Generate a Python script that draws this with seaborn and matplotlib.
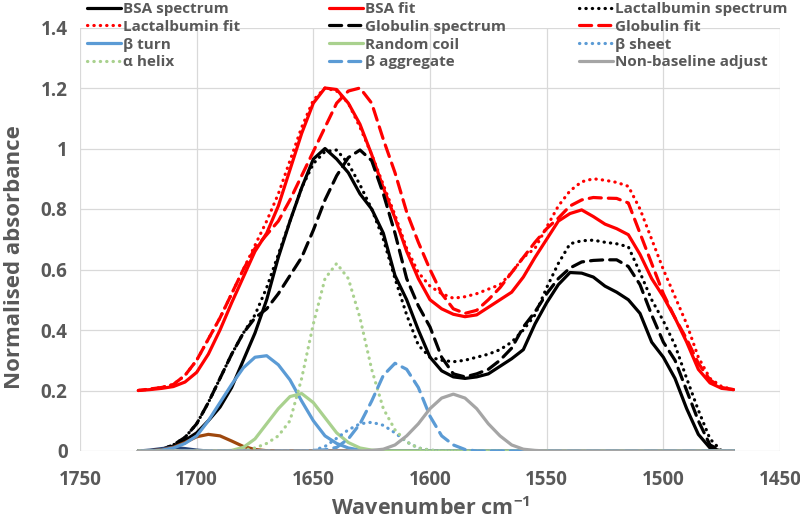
import matplotlib
matplotlib.use("Agg")
import matplotlib.pyplot as plt
import seaborn as sns

wavenumber = [1725, 1720, 1715, 1710, 1705, 1700, 1695, 1690, 1685, 1680,
              1675, 1670, 1665, 1660, 1655, 1650, 1645, 1640, 1635, 1630,
              1625, 1620, 1615, 1610, 1605, 1600, 1595, 1590, 1585, 1580,
              1575, 1570, 1565, 1560, 1555, 1550, 1545, 1540, 1535, 1530,
              1525, 1520, 1515, 1510, 1505, 1500, 1495, 1490, 1485, 1480,
              1475, 1470]

bsa_spectrum = [0.0, 0.0, 0.005, 0.015, 0.035, 0.06, 0.10, 0.145, 0.21, 0.30,
                0.39, 0.50, 0.64, 0.76, 0.87, 0.965, 1.0, 0.965, 0.92, 0.85,
                0.80, 0.72, 0.58, 0.50, 0.40, 0.31, 0.265, 0.245, 0.24, 0.245,
                0.255, 0.28, 0.305, 0.335, 0.42, 0.49, 0.55, 0.59, 0.588, 0.575,
                0.545, 0.525, 0.50, 0.455, 0.36, 0.31, 0.24, 0.14, 0.055, 0.01,
                0.0, 0.0]
bsa_fit = [0.2, 0.203, 0.207, 0.213, 0.228, 0.26, 0.32, 0.40, 0.49, 0.575,
           0.66, 0.72, 0.81, 0.93, 1.05, 1.15, 1.20, 1.195, 1.15, 1.08,
           0.98, 0.87, 0.77, 0.66, 0.57, 0.50, 0.47, 0.452, 0.444, 0.45,
           0.475, 0.50, 0.525, 0.575, 0.64, 0.70, 0.76, 0.785, 0.797, 0.775,
           0.75, 0.735, 0.715, 0.65, 0.57, 0.51, 0.44, 0.36, 0.27, 0.225,
           0.207, 0.203]
lact_spectrum = [0.0, 0.0, 0.005, 0.02, 0.045, 0.09, 0.16, 0.24, 0.32, 0.39,
                 0.45, 0.54, 0.65, 0.76, 0.87, 0.95, 0.99, 0.995, 0.95, 0.88,
                 0.80, 0.70, 0.57, 0.45, 0.35, 0.31, 0.30, 0.295, 0.30, 0.31,
                 0.32, 0.335, 0.36, 0.40, 0.45, 0.54, 0.62, 0.685, 0.695, 0.697,
                 0.69, 0.685, 0.675, 0.59, 0.50, 0.43, 0.35, 0.24, 0.135, 0.04,
                 0.0, 0.0]
lact_fit = [0.2, 0.205, 0.21, 0.22, 0.25, 0.30, 0.37, 0.44, 0.52, 0.60,
            0.68, 0.76, 0.85, 0.96, 1.07, 1.16, 1.20, 1.19, 1.15, 1.07,
            0.98, 0.88, 0.78, 0.67, 0.59, 0.545, 0.52, 0.505, 0.51, 0.52,
            0.535, 0.55, 0.59, 0.64, 0.67, 0.74, 0.81, 0.86, 0.89, 0.90,
            0.895, 0.888, 0.875, 0.80, 0.70, 0.60, 0.51, 0.42, 0.31, 0.24,
            0.213, 0.203]
glob_spectrum = [0.0, 0.0, 0.005, 0.02, 0.045, 0.09, 0.16, 0.24, 0.32, 0.39,
                 0.44, 0.47, 0.52, 0.58, 0.64, 0.73, 0.83, 0.91, 0.97, 0.995,
                 0.96, 0.85, 0.72, 0.57, 0.48, 0.41, 0.31, 0.255, 0.245, 0.255,
                 0.27, 0.30, 0.34, 0.41, 0.46, 0.52, 0.57, 0.605, 0.625, 0.63,
                 0.632, 0.632, 0.61, 0.55, 0.45, 0.36, 0.30, 0.20, 0.10, 0.02,
                 0.0, 0.0]
glob_fit = [0.2, 0.205, 0.21, 0.22, 0.25, 0.30, 0.37, 0.44, 0.52, 0.60,
            0.67, 0.715, 0.76, 0.83, 0.91, 0.99, 1.07, 1.15, 1.19, 1.20,
            1.15, 1.03, 0.92, 0.79, 0.69, 0.60, 0.52, 0.47, 0.455, 0.465,
            0.50, 0.54, 0.59, 0.64, 0.69, 0.735, 0.77, 0.81, 0.83, 0.838,
            0.836, 0.835, 0.82, 0.72, 0.62, 0.52, 0.44, 0.37, 0.29, 0.235,
            0.21, 0.203]

# fitted component bands
band_1712 = [0.0, 0.003, 0.008, 0.012, 0.008, 0.003, 0.0, 0.0, 0.0, 0.0,
             0.0, 0.0, 0.0, 0.0, 0.0, 0.0, 0.0, 0.0, 0.0, 0.0,
             0.0, 0.0, 0.0, 0.0, 0.0, 0.0, 0.0, 0.0, 0.0, 0.0,
             0.0, 0.0, 0.0, 0.0, 0.0, 0.0, 0.0, 0.0, 0.0, 0.0,
             0.0, 0.0, 0.0, 0.0, 0.0, 0.0, 0.0, 0.0, 0.0, 0.0,
             0.0, 0.0]
band_1695 = [0.0, 0.001, 0.004, 0.012, 0.028, 0.047, 0.055, 0.05, 0.033, 0.015,
             0.005, 0.001, 0.0, 0.0, 0.0, 0.0, 0.0, 0.0, 0.0, 0.0,
             0.0, 0.0, 0.0, 0.0, 0.0, 0.0, 0.0, 0.0, 0.0, 0.0,
             0.0, 0.0, 0.0, 0.0, 0.0, 0.0, 0.0, 0.0, 0.0, 0.0,
             0.0, 0.0, 0.0, 0.0, 0.0, 0.0, 0.0, 0.0, 0.0, 0.0,
             0.0, 0.0]
beta_turn = [0.0, 0.0, 0.003, 0.01, 0.025, 0.05, 0.10, 0.16, 0.22, 0.275,
             0.31, 0.315, 0.285, 0.235, 0.165, 0.10, 0.05, 0.025, 0.01, 0.003,
             0.0, 0.0, 0.0, 0.0, 0.0, 0.0, 0.0, 0.0, 0.0, 0.0,
             0.0, 0.0, 0.0, 0.0, 0.0, 0.0, 0.0, 0.0, 0.0, 0.0,
             0.0, 0.0, 0.0, 0.0, 0.0, 0.0, 0.0, 0.0, 0.0, 0.0,
             0.0, 0.0]
random_coil = [0.0, 0.0, 0.0, 0.0, 0.0, 0.0, 0.0, 0.0, 0.002, 0.012,
               0.04, 0.09, 0.14, 0.18, 0.19, 0.16, 0.11, 0.06, 0.028, 0.01,
               0.003, 0.0, 0.0, 0.0, 0.0, 0.0, 0.0, 0.0, 0.0, 0.0,
               0.0, 0.0, 0.0, 0.0, 0.0, 0.0, 0.0, 0.0, 0.0, 0.0,
               0.0, 0.0, 0.0, 0.0, 0.0, 0.0, 0.0, 0.0, 0.0, 0.0,
               0.0, 0.0]
beta_sheet = [0.0, 0.0, 0.0, 0.0, 0.0, 0.0, 0.0, 0.0, 0.0, 0.0,
              0.0, 0.0, 0.0, 0.0, 0.0, 0.002, 0.015, 0.042, 0.07, 0.09,
              0.095, 0.085, 0.06, 0.03, 0.01, 0.003, 0.0, 0.0, 0.0, 0.0,
              0.0, 0.0, 0.0, 0.0, 0.0, 0.0, 0.0, 0.0, 0.0, 0.0,
              0.0, 0.0, 0.0, 0.0, 0.0, 0.0, 0.0, 0.0, 0.0, 0.0,
              0.0, 0.0]
alpha_helix = [0.0, 0.0, 0.0, 0.0, 0.0, 0.0, 0.0, 0.0, 0.0, 0.003,
               0.01, 0.025, 0.05, 0.10, 0.24, 0.42, 0.57, 0.62, 0.57, 0.44,
               0.27, 0.14, 0.07, 0.03, 0.01, 0.003, 0.0, 0.0, 0.0, 0.0,
               0.0, 0.0, 0.0, 0.0, 0.0, 0.0, 0.0, 0.0, 0.0, 0.0,
               0.0, 0.0, 0.0, 0.0, 0.0, 0.0, 0.0, 0.0, 0.0, 0.0,
               0.0, 0.0]
beta_aggregate = [0.0, 0.0, 0.0, 0.0, 0.0, 0.0, 0.0, 0.0, 0.0, 0.0,
                  0.0, 0.0, 0.0, 0.0, 0.0, 0.002, 0.004, 0.012, 0.04, 0.09,
                  0.165, 0.25, 0.29, 0.27, 0.21, 0.115, 0.05, 0.02, 0.005, 0.0,
                  0.0, 0.0, 0.0, 0.0, 0.0, 0.0, 0.0, 0.0, 0.0, 0.0,
                  0.0, 0.0, 0.0, 0.0, 0.0, 0.0, 0.0, 0.0, 0.0, 0.0,
                  0.0, 0.0]
non_baseline = [0.0, 0.0, 0.0, 0.0, 0.0, 0.0, 0.0, 0.0, 0.0, 0.0,
                0.0, 0.0, 0.0, 0.0, 0.0, 0.0, 0.0, 0.0, 0.0, 0.0,
                0.002, 0.006, 0.02, 0.05, 0.09, 0.14, 0.175, 0.188, 0.175, 0.14,
                0.09, 0.05, 0.02, 0.006, 0.002, 0.0, 0.0, 0.0, 0.0, 0.0,
                0.0, 0.0, 0.0, 0.0, 0.0, 0.0, 0.0, 0.0, 0.0, 0.0,
                0.0, 0.0]

x_ticks = [1750, 1700, 1650, 1600, 1550, 1500, 1450]
y_ticks = [0, 0.2, 0.4, 0.6, 0.8, 1.0, 1.2, 1.4]
y_tick_labels = ["0", "0.2", "0.4", "0.6", "0.8", "1", "1.2", "1.4"]

sns.set_theme(style="white")
plt.rcParams["font.family"] = ["Open Sans", "DejaVu Sans"]
plt.rcParams["font.weight"] = "bold"
plt.rcParams["mathtext.fontset"] = "custom"
plt.rcParams["mathtext.rm"] = "Open Sans:bold"
plt.rcParams["mathtext.bf"] = "Open Sans:bold"

TEXT = "#595959"
BLUE = "#5B9BD5"
GREEN = "#A9D18E"
GREY = "#A5A5A5"
DOT = (0, (0.1, 1.9))
DASH = (0, (3.8, 2.2))

series = [
    ("BSA spectrum", bsa_spectrum, "black", "-"),
    ("BSA fit", bsa_fit, "red", "-"),
    ("Lactalbumin spectrum", lact_spectrum, "black", DOT),
    ("Lactalbumin fit", lact_fit, "red", DOT),
    ("Globulin spectrum", glob_spectrum, "black", DASH),
    ("Globulin fit", glob_fit, "red", DASH),
    ("_band_1712", band_1712, "#264478", "-"),
    ("_band_1695", band_1695, "#9E480E", "-"),
    ("β turn", beta_turn, BLUE, "-"),
    ("Random coil", random_coil, GREEN, "-"),
    ("β sheet", beta_sheet, BLUE, DOT),
    ("α helix", alpha_helix, GREEN, DOT),
    ("β aggregate", beta_aggregate, BLUE, DASH),
    ("Non-baseline adjust", non_baseline, GREY, "-"),
]

fig = plt.figure(figsize=(8, 5.23), dpi=100)
ax = fig.add_axes([0.1, 1 - 451 / 523, 0.875, (451 - 27.5) / 523])

for name, vals, colour, ls in series:
    sns.lineplot(x=wavenumber, y=vals, ax=ax, color=colour, linestyle=ls,
                 lw=2.3, label=name, dash_capstyle="round")

if ax.get_legend() is not None:
    ax.get_legend().remove()

ax.set_xlim(1750, 1450)
ax.set_ylim(0, 1.4)
ax.set_xticks(x_ticks)
ax.set_yticks(y_ticks)
ax.set_yticklabels(y_tick_labels)
ax.grid(True, color="#D9D9D9", lw=0.9)
ax.set_axisbelow(True)
for s in ax.spines.values():
    s.set_visible(False)
ax.tick_params(axis="both", length=0, labelsize=13.5, labelcolor=TEXT)
ax.tick_params(axis="x", pad=14)
ax.tick_params(axis="y", pad=9)

ax.set_xlabel(r"Wavenumber cm$^{\mathbf{-1}}$", fontsize=15.5, color=TEXT,
              fontweight="bold", va="center")
ax.xaxis.set_label_coords(0.5, -0.135)
ax.set_ylabel("Normalised absorbance", fontsize=16, color=TEXT,
              fontweight="bold", va="center")
ax.yaxis.set_label_coords(-0.093, 0.458)

# legend laid out as three columns like the original
handles, labels = ax.get_legend_handles_labels()
lookup = dict(zip(labels, handles))
columns = [
    (["BSA spectrum", "Lactalbumin fit", "β turn", "α helix"], 87),
    (["BSA fit", "Globulin spectrum", "Random coil", "β aggregate"], 329),
    (["Lactalbumin spectrum", "Globulin fit", "β sheet", "Non-baseline adjust"], 579),
]
for names, x_px in columns:
    leg = fig.legend([lookup[n] for n in names], names, loc="upper left",
                     bbox_to_anchor=(x_px / 800, 1 - 2 / 523), frameon=False,
                     fontsize=11, handlelength=2.2, handletextpad=0.15,
                     labelspacing=0.25, borderpad=0, borderaxespad=0)
    for t in leg.get_texts():
        t.set_color(TEXT)

fig.savefig("out.png", dpi=100)
